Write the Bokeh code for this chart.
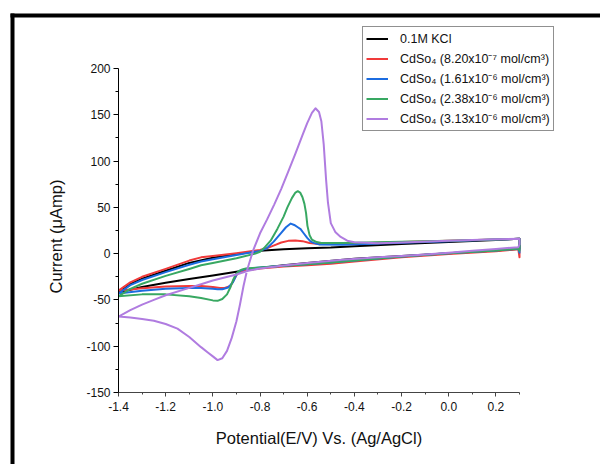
import math
from bokeh.plotting import figure
from bokeh.models import (FixedTicker, Legend, LegendItem, BoxAnnotation, LinearAxis,
                          Range1d, Label, PrintfTickFormatter)
from bokeh.embed import file_html
from bokeh.resources import INLINE

# ---------------- data ----------------
x_ticks = [-1.4, -1.2, -1.0, -0.8, -0.6, -0.4, -0.2, 0.0, 0.2]
x_minor = [-1.3, -1.1, -0.9, -0.7, -0.5, -0.3, -0.1, 0.1, 0.3]
y_ticks = [-150, -100, -50, 0, 50, 100, 150, 200]
y_minor = [-125, -75, -25, 25, 75, 125, 175]
x_bounds = (-1.4, 0.3)
y_bounds = (-150, 200)

labels = [
    "0.1M KCl",
    "CdSo\u2084 (8.20x10\u207b\u2077 mol/cm\u00b3)",
    "CdSo\u2084 (1.61x10\u207b\u2076 mol/cm\u00b3)",
    "CdSo\u2084 (2.38x10\u207b\u2076 mol/cm\u00b3)",
    "CdSo\u2084 (3.13x10\u207b\u2076 mol/cm\u00b3)",
]
x_title = "Potential(E/V) Vs. (Ag/AgCl)"
y_title = "Current (\u03bcAmp)"

# 0.1M KCl : anodic branch (-1.4 -> 0.3) then cathodic branch (0.3 -> -1.4)
kcl_x = [-1.4, -1.35, -1.3, -1.2, -1.1, -1.0, -0.9, -0.8, -0.7, -0.6, -0.5, -0.4, -0.2, 0.0, 0.2, 0.3,
         0.3, 0.2, 0.0, -0.2, -0.4, -0.6, -0.7, -0.8, -0.9, -1.0, -1.1, -1.2, -1.3, -1.35, -1.4]
kcl_y = [-42, -33, -27, -18.5, -10, -4.5, -0.5, 3, 4.8, 5.8, 6.6, 8, 10.5, 12.5, 14.8, 16,
         5, 3.5, 0.5, -2.5, -5.5, -10, -12.5, -15.5, -19.5, -23.5, -27.5, -31.5, -36, -39, -42]

cd1_x = [-1.4, -1.35, -1.3, -1.2, -1.1, -1.05, -1.0, -0.9, -0.8, -0.77, -0.74, -0.71, -0.68, -0.65,
         -0.62, -0.59, -0.55, -0.45, -0.2, 0.0, 0.2, 0.3,
         0.3, 0.295, 0.2, 0.0, -0.2, -0.4, -0.5, -0.6, -0.7, -0.8, -0.86, -0.895, -0.91, -0.925,
         -0.95, -0.97, -1.0, -1.05, -1.1, -1.2, -1.3, -1.4]
cd1_y = [-40, -31, -25, -16.5, -7.5, -4, -2.5, 0.5, 4, 6, 9, 12, 13.8, 14.3,
         13.5, 11.5, 10.3, 10.7, 12.5, 14, 15.3, 16,
         -4, 5, 2.5, -0.5, -4, -8.5, -11, -12.5, -14, -16, -18, -21, -28, -35,
         -37, -37.2, -36, -35, -35, -35.5, -37.5, -40]

cd2_x = [-1.4, -1.35, -1.3, -1.2, -1.1, -1.05, -1.0, -0.9, -0.8, -0.77, -0.742, -0.712, -0.69, -0.67,
         -0.655, -0.64, -0.628, -0.615, -0.6, -0.585, -0.57, -0.55, -0.45, -0.2, 0.0, 0.2, 0.3,
         0.3, 0.295, 0.2, 0.0, -0.2, -0.4, -0.5, -0.6, -0.7, -0.8, -0.86, -0.885, -0.9, -0.915,
         -0.935, -0.96, -0.98, -1.0, -1.05, -1.1, -1.2, -1.3, -1.4]
cd2_y = [-43, -34, -28.5, -20, -12, -8.5, -6, -1.5, 3, 6, 13, 22, 28.5, 32.5,
         31, 28.5, 26.5, 22, 17, 13, 11.4, 10, 9.5, 11.8, 13.5, 15.2, 16,
         1, 5.5, 3.5, 0.3, -3, -7.5, -9.5, -11.5, -13, -15, -16.5, -18.5, -23, -31,
         -36.5, -38.5, -38.5, -38, -37, -37, -38, -40, -43]

cd3_x = [-1.4, -1.35, -1.3, -1.2, -1.1, -1.05, -1.0, -0.9, -0.82, -0.8, -0.783, -0.755, -0.726, -0.7,
         -0.684, -0.665, -0.65, -0.64, -0.63, -0.62, -0.612, -0.605, -0.599, -0.59, -0.58, -0.56,
         -0.54, -0.45, -0.2, 0.0, 0.2, 0.3,
         0.3, 0.295, 0.2, 0.0, -0.2, -0.4, -0.5, -0.6, -0.7, -0.8, -0.86, -0.875, -0.89, -0.903,
         -0.915, -0.925, -0.94, -0.96, -0.98, -1.0, -1.05, -1.1, -1.2, -1.3, -1.4]
cd3_y = [-46, -38, -32.5, -24, -16.5, -12.5, -10, -5, 0, 2, 6, 14, 27, 40,
         50, 60, 66, 67.5, 66, 61, 54, 44, 30, 20, 15, 12.5,
         11.4, 11.4, 12.8, 14, 15.3, 16,
         3, 5.5, 3.5, 0.3, -3, -7.5, -9.5, -11.5, -13, -15, -16, -17, -19, -22.5,
         -29, -36, -44, -49, -51, -50.5, -48, -46, -44, -44, -46]

cd4_x = [-1.4, -1.35, -1.3, -1.25, -1.2, -1.15, -1.1, -1.05, -1.02, -1.0, -0.98, -0.96, -0.94, -0.92,
         -0.9, -0.885, -0.87, -0.855, -0.83, -0.8, -0.77, -0.74, -0.71, -0.68, -0.65, -0.62, -0.6,
         -0.58, -0.565, -0.55, -0.54, -0.53, -0.52, -0.512, -0.5, -0.48, -0.458, -0.43, -0.4, -0.3,
         -0.2, 0.0, 0.2, 0.3,
         0.3, 0.295, 0.2, 0.1, 0.0, -0.1, -0.2, -0.3, -0.45, -0.6, -0.7, -0.8, -0.85, -0.9, -1.0,
         -1.05, -1.1, -1.2, -1.25, -1.3, -1.35, -1.4]
cd4_y = [-68, -69, -70.5, -72.5, -76, -81, -90, -101, -107, -111, -115, -113, -105, -91,
         -73, -55, -35, -18, 3, 22, 37, 53, 70, 89, 108, 128, 141,
         152, 157, 153, 143, 118, 80, 55, 33, 23, 18, 14, 12.4, 11.2,
         12, 14, 15.5, 16,
         10, 7, 5, 3, 1, -1, -2.5, -4, -6.6, -10, -12.7, -16, -18.5, -22.5, -29,
         -33, -37, -45, -50, -55, -61, -68]

series_x = [kcl_x, cd1_x, cd2_x, cd3_x, cd4_x]
series_y = [kcl_y, cd1_y, cd2_y, cd3_y, cd4_y]
colors = ["#000000", "#F03A3A", "#1C6CE0", "#38A862", "#B07CE0"]

FONT = "Liberation Sans"
W, H = 600, 464
# plot area in page pixels
PL, PR, PT, PB = 118, 519, 68, 392
kx = (PR - PL) / (x_bounds[1] - x_bounds[0])
ky = (PB - PT) / (y_bounds[1] - y_bounds[0])
x_rng = Range1d(x_bounds[0] - PL / kx, x_bounds[1] + (W - PR) / kx)
y_rng = Range1d(y_bounds[0] - (H - PB) / ky, y_bounds[1] + PT / ky)

p = figure(width=W, height=H, output_backend="svg", toolbar_location=None,
           x_range=x_rng, y_range=y_rng, x_axis_location=None, y_axis_location=None,
           min_border=0, min_border_left=0, min_border_right=0, min_border_top=0,
           min_border_bottom=0)
p.outline_line_color = None
p.grid.visible = False
p.background_fill_color = "white"
p.border_fill_color = "white"

items = []
for xs, ys, c, lab in zip(series_x, series_y, colors, labels):
    r = p.line(xs, ys, line_color=c, line_width=2, line_join="round")
    items.append(LegendItem(label=lab, renderers=[r]))

xaxis = LinearAxis(fixed_location=y_bounds[0], bounds=x_bounds,
                   ticker=FixedTicker(ticks=x_ticks, minor_ticks=x_minor),
                   formatter=PrintfTickFormatter(format="%.1f"))
yaxis = LinearAxis(fixed_location=x_bounds[0], bounds=y_bounds,
                   ticker=FixedTicker(ticks=y_ticks, minor_ticks=y_minor),
                   formatter=PrintfTickFormatter(format="%d"))
for ax in (xaxis, yaxis):
    ax.major_tick_in = 0
    ax.major_tick_out = 5
    ax.minor_tick_in = 0
    ax.minor_tick_out = 3
    ax.major_label_text_font = FONT
    ax.major_label_text_font_size = "12px"
    ax.major_label_text_color = "#111111"
    ax.axis_line_width = 1
xaxis.major_tick_out = 4
xaxis.minor_tick_out = 2
xaxis.axis_line_color = "#444444"
xaxis.major_tick_line_color = "#444444"
xaxis.minor_tick_line_color = "#444444"
yaxis.axis_line_color = "#000000"
xaxis.major_label_standoff = 5
yaxis.major_label_standoff = 3
p.add_layout(xaxis, "below")
p.add_layout(yaxis, "left")

p.add_layout(Label(x=(PL + PR) / 2, y=H - 437, x_units="screen", y_units="screen",
                   text=x_title, text_align="center", text_baseline="middle",
                   text_font=FONT, text_font_size="16.5px", text_color="#111111"))
p.add_layout(Label(x=55, y=H - 236, x_units="screen", y_units="screen", angle=math.pi / 2,
                   text=y_title, text_align="center", text_baseline="middle",
                   text_font=FONT, text_font_size="16.5px", text_color="#111111"))

legend = Legend(items=items, location=(362, H - 131),
                label_text_font=FONT, label_text_font_size="12.5px", label_text_color="#111111",
                glyph_width=22, glyph_height=17, label_height=17, label_standoff=12,
                spacing=3, padding=3, margin=0,
                border_line_color="#222222", border_line_width=1,
                background_fill_color="white", background_fill_alpha=1.0)
p.add_layout(legend)

# outer black frame (runs past the right and bottom edges of the window)
for l, r_, t, b in [(10, 14, 13, H + 10), (10, W + 10, 13, 17)]:
    p.add_layout(BoxAnnotation(left=l, right=r_, top=t, bottom=b,
                               left_units="canvas", right_units="canvas",
                               top_units="canvas", bottom_units="canvas",
                               fill_color="black", fill_alpha=1.0, line_color=None))

open("out.html", "w").write(file_html(p, INLINE))
